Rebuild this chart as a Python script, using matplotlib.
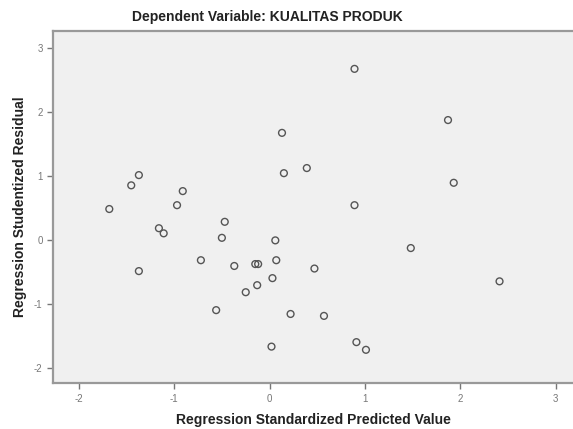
import matplotlib
matplotlib.use("Agg")
import matplotlib.pyplot as plt

plt.rcParams['font.family'] = ['Liberation Sans', 'DejaVu Sans']
plt.rcParams['axes.unicode_minus'] = False

# standardized predicted value vs studentized residual
pred = [0.13, 0.15, 0.39, -1.37, -1.45, -0.91, -0.97, -1.68, 0.89, 1.87,
        1.93, 0.89, -1.16, -1.11, -0.47, -0.50, 0.06, -1.37, -0.72, -0.37,
        -0.15, -0.12, 0.07, 0.47, 0.03, -0.13, -0.25, -0.56, 0.22, 0.02,
        1.48, 2.41, 0.57, 0.91, 1.01]
resid = [1.68, 1.05, 1.13, 1.02, 0.86, 0.77, 0.55, 0.49, 2.68, 1.88,
         0.90, 0.55, 0.19, 0.11, 0.29, 0.04, 0.00, -0.48, -0.31, -0.40,
         -0.37, -0.37, -0.31, -0.44, -0.59, -0.70, -0.81, -1.09, -1.15, -1.66,
         -0.12, -0.64, -1.18, -1.59, -1.71]

ticks = [-2, -1, 0, 1, 2, 3]

fig = plt.figure(figsize=(5.73, 4.29), dpi=100)
ax = fig.add_axes([0.0925, 0.107, 0.9075, 0.8205])
ax.set_facecolor('#f0f0f0')

ax.scatter(pred, resid, s=24, facecolors='none', edgecolors='#555555', linewidths=1.0)

ax.set_xlim(-2.27, 3.18)
ax.set_ylim(-2.23, 3.27)
ax.set_xticks(ticks)
ax.set_yticks(ticks)
ax.tick_params(colors='#777777', labelsize=7, length=4, width=1, labelcolor='#777777')

for s in ax.spines.values():
    s.set_color('#999999')
    s.set_linewidth(1.6)
ax.spines['right'].set_visible(False)

# the original plot is cropped on the right, so the title sits left of centre
ax.set_title('Dependent Variable: KUALITAS PRODUK', fontsize=10, fontweight='bold',
             color='#222222', pad=7, x=0.413)
ax.set_xlabel('Regression Standardized Predicted Value', fontsize=10, fontweight='bold',
              color='#222222', labelpad=7)
ax.set_ylabel('Regression Studentized Residual', fontsize=10, fontweight='bold',
              color='#222222', labelpad=5)

fig.savefig('out.png', dpi=100)
